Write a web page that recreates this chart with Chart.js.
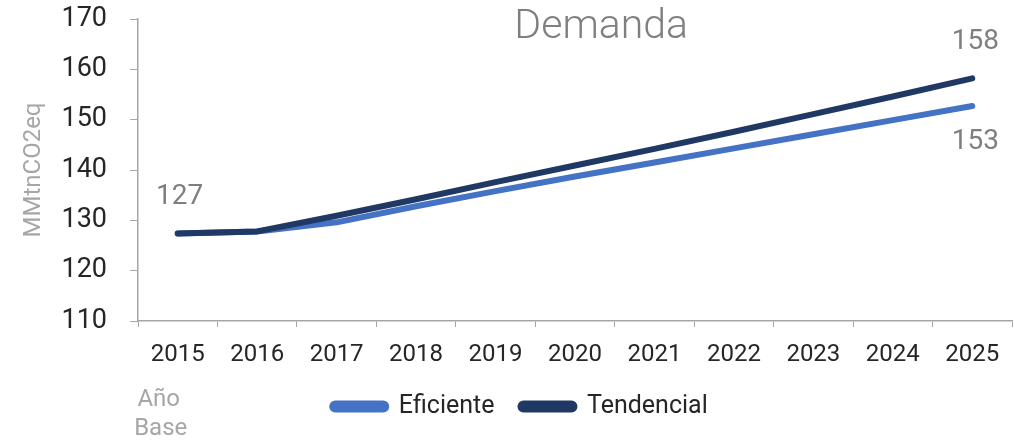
<!DOCTYPE html>
<html>
<head>
<meta charset="utf-8">
<script src="https://cdn.jsdelivr.net/npm/chart.js@4.4.1/dist/chart.umd.min.js"></script>
<style>
  html, body { margin: 0; padding: 0; background: #fff; }
</style>
</head>
<body>
<canvas id="grafica" width="1014" height="444"></canvas>
<script>
// Datos
const anios = ['2015', '2016', '2017', '2018', '2019', '2020', '2021', '2022', '2023', '2024', '2025'];
const eficiente = [127.4, 127.8, 129.6, 132.8, 135.8, 138.7, 141.5, 144.3, 147.1, 149.9, 152.7];
const tendencial = [127.4, 127.8, 130.9, 134.2, 137.6, 140.9, 144.2, 147.6, 151.1, 154.6, 158.2];
const ticksY = [110, 120, 130, 140, 150, 160, 170];

const gris = '#a6a6a6';
const grisTexto = '#7f7f7f';
const negro = '#262626';

// Título y etiquetas dibujadas sobre el área del gráfico
const extras = {
    id: 'extras',
    afterDatasetsDraw(chart) {
        const ctx = chart.ctx;
        const area = chart.chartArea;
        ctx.save();
        ctx.textAlign = 'center';
        ctx.textBaseline = 'middle';

        // Título
        ctx.fillStyle = grisTexto;
        ctx.font = '300 41px Roboto';
        ctx.fillText('Demanda', area.left + (area.right - area.left) * 0.53, 28);

        // Valores inicial y finales
        ctx.font = '28px Roboto';
        const mEf = chart.getDatasetMeta(0).data;
        const mTe = chart.getDatasetMeta(1).data;
        const ultimo = anios.length - 1;
        ctx.fillText(Math.round(tendencial[0]), mTe[0].x + 2, mTe[0].y - 36);
        ctx.fillText(Math.round(tendencial[ultimo]), mTe[ultimo].x + 3, mTe[ultimo].y - 36);
        ctx.fillText(Math.round(eficiente[ultimo]), mEf[ultimo].x + 3, mEf[ultimo].y + 36);

        // Año base
        const x0 = chart.scales.x.getPixelForValue(0);
        ctx.fillStyle = gris;
        ctx.font = '24px Roboto';
        ctx.fillText('Año', x0 - 19, 400);
        ctx.fillText('Base', x0 - 17, 429);
        ctx.restore();
    }
};

const ctx = document.getElementById('grafica').getContext('2d');
new Chart(ctx, {
    type: 'line',
    data: {
        labels: anios,
        datasets: [
            {
                label: 'Eficiente',
                data: eficiente,
                borderColor: '#4472c4',
                backgroundColor: '#4472c4',
                borderWidth: 6,
                borderCapStyle: 'round',
                borderJoinStyle: 'round',
                pointRadius: 0,
                order: 1
            },
            {
                label: 'Tendencial',
                data: tendencial,
                borderColor: '#1f3864',
                backgroundColor: '#1f3864',
                borderWidth: 6,
                borderCapStyle: 'round',
                borderJoinStyle: 'round',
                pointRadius: 0,
                order: 0
            }
        ]
    },
    options: {
        responsive: false,
        animation: false,
        maintainAspectRatio: false,
        layout: { padding: { top: 19, right: 2, bottom: 15, left: 28 } },
        scales: {
            x: {
                offset: true,
                grid: {
                    offset: true,
                    drawOnChartArea: false,
                    drawTicks: true,
                    tickLength: 6,
                    color: gris
                },
                border: { color: gris, width: 1.5 },
                ticks: {
                    color: negro,
                    font: { family: 'Roboto', size: 24 },
                    padding: 14,
                    maxRotation: 0,
                    autoSkip: false
                },
                afterFit(axis) { axis.height = 47; }
            },
            y: {
                min: 110,
                max: 170,
                afterBuildTicks(axis) { axis.ticks = ticksY.map(v => ({ value: v })); },
                grid: {
                    drawOnChartArea: false,
                    drawTicks: true,
                    tickLength: 8,
                    color: gris
                },
                border: { color: gris, width: 1.5 },
                ticks: {
                    color: negro,
                    font: { family: 'Roboto', size: 27 },
                    padding: 23
                },
                title: {
                    display: true,
                    text: 'MMtnCO2eq',
                    color: gris,
                    font: { family: 'Roboto', size: 24 },
                    padding: { top: -8, bottom: 0 }
                },
                afterFit(axis) {
                    axis.width = 110;
                    axis.paddingTop = 0;
                    axis.paddingBottom = 0;
                }
            }
        },
        plugins: {
            legend: {
                position: 'bottom',
                labels: {
                    color: negro,
                    font: { family: 'Roboto', size: 25 },
                    boxWidth: 54,
                    boxHeight: 6,
                    useBorderRadius: true,
                    borderRadius: 3,
                    padding: 26,
                    sort: (a, b) => a.datasetIndex - b.datasetIndex
                }
            },
            tooltip: { enabled: false }
        }
    },
    plugins: [extras]
});
</script>
</body>
</html>
